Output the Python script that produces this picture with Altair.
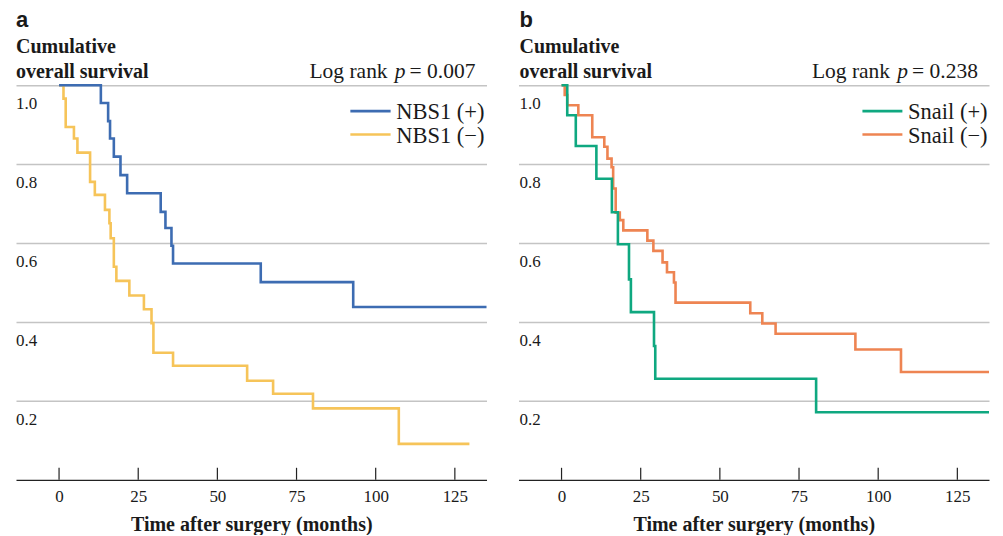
import altair as alt
import pandas as pd

# ---------------- data ----------------
# Panel a: NBS1
a_pos_t = [0, 13.2, 15.5, 16.1, 17.3, 19.4, 21.5, 32.1, 33.6, 35.5, 36.0, 63.7, 92.9, 135.0]
a_pos_s = [1.0, 0.955, 0.909, 0.865, 0.819, 0.772, 0.726, 0.679, 0.638, 0.593, 0.548, 0.501, 0.438, 0.438]
a_neg_t = [0, 1.4, 2.1, 4.7, 5.8, 9.8, 11.3, 14.5, 15.9, 16.3, 17.3, 18.1, 22.2, 26.8, 29.2, 29.8,
           36.0, 59.4, 67.6, 80.2, 107.3, 129.6]
a_neg_s = [1.0, 0.966, 0.894, 0.865, 0.829, 0.755, 0.722, 0.684, 0.650, 0.612, 0.540, 0.504, 0.467,
           0.432, 0.397, 0.322, 0.289, 0.251, 0.218, 0.181, 0.091, 0.091]
# Panel b: Snail
b_pos_t = [0, 1.8, 4.5, 11.0, 15.9, 17.8, 21.3, 21.9, 29.2, 29.6, 80.4, 135.0]
b_pos_s = [1.0, 0.924, 0.846, 0.763, 0.678, 0.597, 0.508, 0.425, 0.339, 0.256, 0.171, 0.171]
b_neg_t = [0, 1.0, 1.8, 5.3, 9.7, 13.5, 14.5, 15.8, 16.3, 17.1, 18.4, 19.5, 27.1, 29.0, 31.9, 33.3,
           35.5, 36.0, 59.6, 63.4, 67.6, 92.8, 107.2, 135.0]
b_neg_s = [1.0, 0.975, 0.949, 0.924, 0.868, 0.844, 0.814, 0.792, 0.738, 0.677, 0.658, 0.632, 0.606,
           0.580, 0.551, 0.526, 0.500, 0.449, 0.422, 0.396, 0.370, 0.330, 0.273, 0.273]

x_ticks = [0, 25, 50, 75, 100, 125]
y_ticks = [0.2, 0.4, 0.6, 0.8, 1.0]
y_tick_labels = ["0.2", "0.4", "0.6", "0.8", "1.0"]

panel_letters = ["a", "b"]
p_values = ["0.007", "0.238"]
series_names = [["NBS1 (+)", "NBS1 (\u2212)"], ["Snail (+)", "Snail (\u2212)"]]
series_colors = [["#3d6cb2", "#f6c459"], ["#0fa880", "#ee8452"]]

# ---------------- styling ----------------
SERIF = "Liberation Serif"
SANS = "Liberation Sans"
TXT = "#1a1a1a"
W, H = 471, 472
PX_PER_UNIT = 395.0
XDOM = [-13.6, 135.0]
YDOM = [0.0, H / PX_PER_UNIT]

x_axis = alt.Axis(values=x_ticks, ticks=False, grid=False, domain=True, domainColor="#222222",
                  domainWidth=1.2, labelFont=SERIF, labelFontSize=17, labelColor=TXT,
                  labelPadding=22, labelBaseline="alphabetic",
                  title="Time after surgery (months)", titleFont=SERIF, titleFontSize=20,
                  titleFontWeight="bold", titleColor=TXT, titleBaseline="alphabetic", titleY=51)
y_axis = alt.Axis(values=y_ticks, grid=True, labels=False, ticks=False, domain=False, title=None,
                  gridColor="#c4c4c4", gridWidth=1.5)


def xenc():
    return alt.X("t:Q", scale=alt.Scale(domain=XDOM, nice=False, zero=False), axis=x_axis)


def yenc():
    return alt.Y("s:Q", scale=alt.Scale(domain=YDOM, nice=False, zero=False), axis=y_axis)


one = pd.DataFrame({"k": [0]})


def text_layer(txt, x, y, size, weight="normal", style="normal", align="left", font=SERIF):
    return alt.Chart(one).mark_text(text=txt, align=align, baseline="alphabetic", font=font,
                                    fontSize=size, fontWeight=weight, fontStyle=style,
                                    color=TXT).encode(x=alt.value(x), y=alt.value(y))


def panel(i, pos_t, pos_s, neg_t, neg_s, leg_line_x, leg_text_x, letter_x):
    layers = []
    # curves: (−) drawn first, (+) on top
    for t, s, col in [(neg_t, neg_s, series_colors[i][1]), (pos_t, pos_s, series_colors[i][0])]:
        df = pd.DataFrame({"t": t, "s": s})
        layers.append(alt.Chart(df).mark_line(interpolate="step-after", color=col,
                                              strokeWidth=2.6, strokeCap="butt")
                      .encode(x=xenc(), y=yenc()))
    # y tick labels (below each gridline)
    ylab = pd.DataFrame({"s": y_ticks, "lab": y_tick_labels})
    layers.append(alt.Chart(ylab).mark_text(align="left", baseline="alphabetic", dy=24,
                                            font=SERIF, fontSize=17, color=TXT)
                  .encode(x=alt.value(letter_x), y=yenc(), text="lab:N"))
    # inward x ticks
    xt = pd.DataFrame({"t": x_ticks})
    layers.append(alt.Chart(xt).mark_rule(color="#222222", strokeWidth=1.2)
                  .encode(x=xenc(), y=alt.value(H - 12), y2=alt.value(H)))
    # headers
    layers.append(text_layer(panel_letters[i], letter_x, 18.7, 22, weight="bold", font=SANS))
    layers.append(text_layer("Cumulative", letter_x, 44.3, 20, weight="bold"))
    layers.append(text_layer("overall survival", letter_x, 69.7, 20, weight="bold"))
    layers.append(text_layer("Log rank", 372, 69.7, 21.5, align="right"))
    layers.append(text_layer("p", 384.5, 69.7, 21.5, style="italic", align="center"))
    layers.append(text_layer("= " + p_values[i], 394, 69.7, 21.5, align="left"))
    # legend
    for r in range(2):
        layers.append(alt.Chart(one).mark_rule(color=series_colors[i][r], strokeWidth=2.6)
                      .encode(x=alt.value(leg_line_x[0]), x2=alt.value(leg_line_x[1]),
                              y=alt.value(103 + r * 23.3)))
        layers.append(text_layer(series_names[i][r], leg_text_x, 111.3 + r * 23.7, 22.5))
    return alt.layer(*layers).properties(width=W, height=H)


pa = panel(0, a_pos_t, a_pos_s, a_neg_t, a_neg_s, (334.7, 375), 380.7, 0)
pb = panel(1, b_pos_t, b_pos_s, b_neg_t, b_neg_s, (344.3, 384.3), 390, 1)

chart = alt.hconcat(pa, pb, spacing=32, bounds="flush").properties(
    padding={"left": 8, "top": 0, "right": 0, "bottom": 0},
    background="white",
).configure_view(stroke=None)

chart.save("out.html", embed_options={"renderer": "svg", "actions": False})
